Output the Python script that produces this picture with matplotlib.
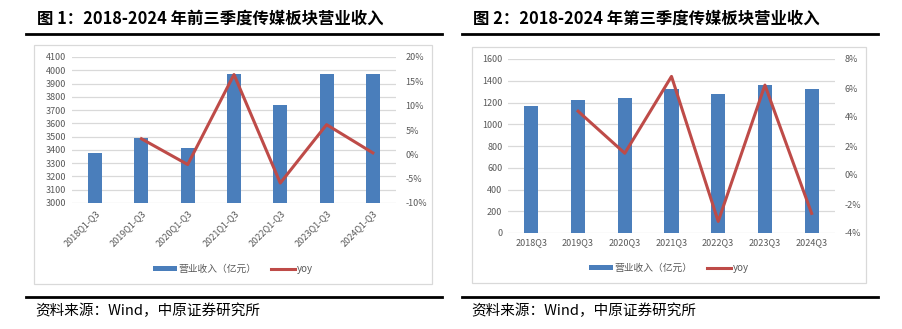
import numpy as np
import matplotlib
matplotlib.use("Agg")
from matplotlib import pyplot as plt
from matplotlib.lines import Line2D
from matplotlib.patches import Rectangle
from matplotlib.ticker import FuncFormatter, MultipleLocator

plt.rcParams['font.family'] = ['Noto Sans CJK SC', 'DejaVu Sans']

# 数据
cats1 = ["2018Q1-Q3", "2019Q1-Q3", "2020Q1-Q3", "2021Q1-Q3", "2022Q1-Q3", "2023Q1-Q3", "2024Q1-Q3"]
rev1 = [3380, 3490, 3415, 3975, 3735, 3970, 3975]
yoy1 = [np.nan, 3.2, -2.1, 16.4, -5.9, 6.1, 0.3]

cats2 = ["2018Q3", "2019Q3", "2020Q3", "2021Q3", "2022Q3", "2023Q3", "2024Q3"]
rev2 = [1170, 1225, 1240, 1325, 1280, 1360, 1325]
yoy2 = [np.nan, 4.4, 1.5, 6.8, -3.2, 6.2, -2.65]

titles = ["图 1：2018-2024 年前三季度传媒板块营业收入", "图 2：2018-2024 年第三季度传媒板块营业收入"]
source = "资料来源：Wind，中原证券研究所"
legend_labels = ["营业收入（亿元）", "yoy"]

W, H = 902, 329
BLUE = "#4A7EBB"
RED = "#BE4B48"
GRAY = "#595959"
GRID = "#D9D9D9"


def px(x0, y0, x1, y1):
    # 像素坐标 -> 图坐标
    return [x0 / W, 1 - y1 / H, (x1 - x0) / W, (y1 - y0) / H]


fig = plt.figure(figsize=(W / 100, H / 100), dpi=100)


def panel(title, ax_box, frame, rule_x, title_x, cats, rev, yoy, ylim, ystep, rlim, rstep, rotate, leg_y, rpad):
    # 外框
    fig.add_artist(Rectangle((frame[0] / W, 1 - frame[3] / H), (frame[2] - frame[0]) / W,
                             (frame[3] - frame[1]) / H, transform=fig.transFigure,
                             fill=False, edgecolor=GRID, linewidth=0.9))
    # 标题、横线、来源
    fig.text(title_x / W, 1 - 19 / H, title, fontsize=11.8, fontweight='bold', va='center', ha='left')
    for yy in (34, 297):
        fig.add_artist(Line2D([rule_x[0] / W, rule_x[1] / W], [1 - yy / H, 1 - yy / H],
                              transform=fig.transFigure, color='black', linewidth=2.0))
    fig.text((title_x - 2) / W, 1 - 311 / H, source, fontsize=10.5, va='center', ha='left')

    ax = fig.add_axes(px(*ax_box))
    x = np.arange(len(cats))
    b = ax.bar(x, rev, width=0.3, color=BLUE, zorder=2)
    ax.set_xlim(-0.5, len(cats) - 0.5)
    ax.set_ylim(*ylim)
    ax.yaxis.set_major_locator(MultipleLocator(ystep))
    ax.grid(axis='y', color=GRID, linewidth=0.9, zorder=0)
    ax.set_axisbelow(True)
    for s in ax.spines.values():
        s.set_visible(False)
    ax.tick_params(length=0, labelsize=6.5, labelcolor=GRAY, pad=4)
    ax.set_xticks(x)
    if rotate:
        ax.set_xticklabels(cats, rotation=45, ha='right', rotation_mode='anchor')
    else:
        ax.set_xticklabels(cats)

    ax2 = ax.twinx()
    l, = ax2.plot(x, yoy, color=RED, linewidth=2.2, zorder=3)
    ax2.set_ylim(*rlim)
    ax2.yaxis.set_major_locator(MultipleLocator(rstep))
    ax2.yaxis.set_major_formatter(FuncFormatter(lambda v, p: f"{v:.0f}%"))
    for s in ax2.spines.values():
        s.set_visible(False)
    ax2.tick_params(length=0, labelsize=6.5, labelcolor=GRAY, pad=rpad)

    cx = (frame[0] + frame[2]) / 2
    fig.legend([b, l], legend_labels, loc='center', bbox_to_anchor=(cx / W, 1 - leg_y / H),
               ncol=2, frameon=False, fontsize=7, labelcolor=GRAY, handlelength=2.4,
               handleheight=0.5, columnspacing=1.5, handletextpad=0.2)


panel(titles[0], (72, 57, 396, 203), (34, 45, 432, 284), (26, 442), 37, cats1, rev1, yoy1,
      (3000, 4100), 100, (-10, 20), 5, True, 269, 7)
panel(titles[1], (508, 59, 835, 233), (472, 47, 866, 283), (462, 878), 473, cats2, rev2, yoy2,
      (0, 1600), 200, (-4, 8), 2, False, 268, 7)

fig.savefig("out.png", dpi=100)
